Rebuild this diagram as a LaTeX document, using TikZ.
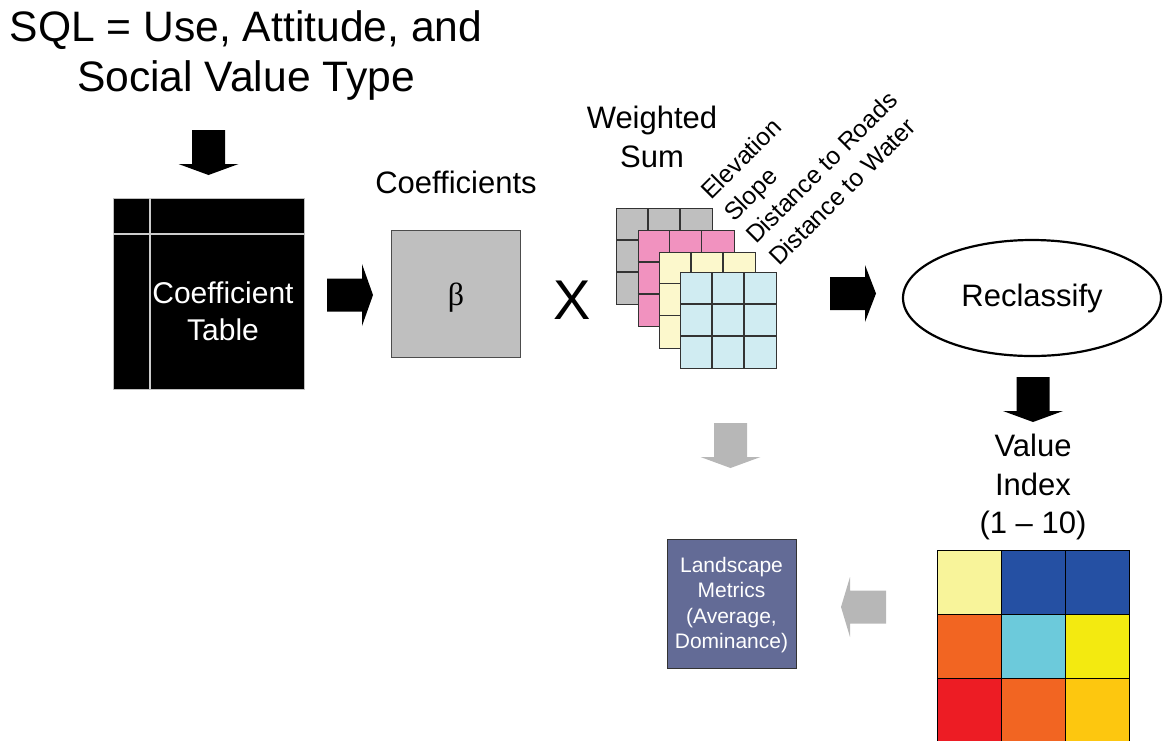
\documentclass[tikz,border=0pt]{standalone}
\usepackage{fontspec}
\setmainfont{Liberation Sans}
\newfontfamily\betafont{Liberation Serif}
\usetikzlibrary{shapes.geometric}
\definecolor{gridgray}{HTML}{BFBFBF}
\definecolor{gridpink}{HTML}{F192BF}
\definecolor{gridcream}{HTML}{FCF8CC}
\definecolor{gridblue}{HTML}{D0ECF2}
\definecolor{betagray}{HTML}{BFBFBF}
\definecolor{lmblue}{HTML}{636B96}
\definecolor{arrgray}{HTML}{B7B7B7}
\definecolor{vpale}{HTML}{F8F49A}
\definecolor{vblue}{HTML}{2550A3}
\definecolor{vorange}{HTML}{F26522}
\definecolor{vcyan}{HTML}{6CCADB}
\definecolor{vyellow}{HTML}{F3EA10}
\definecolor{vred}{HTML}{ED1C24}
\definecolor{vgold}{HTML}{FDC70F}
\newcommand\myDownArrow[3]{%
  \fill[#3] (#1-16.5,#2) -- (#1+16.5,#2) -- (#1+16.5,#2+34) -- (#1+30,#2+34)
    -- (#1,#2+45) -- (#1-30,#2+34) -- (#1-16.5,#2+34) -- cycle;}
\newcommand\myRightArrow[4]{%
  \fill[#3] (#1,#2-16.5) -- (#1+35,#2-16.5) -- (#1+35,#2-#4) -- (#1+46,#2)
    -- (#1+35,#2+#4) -- (#1+35,#2+16.5) -- (#1,#2+16.5) -- cycle;}
\newcommand\myLeftArrow[3]{%
  \fill[#3] (#1,#2-16.5) -- (#1-36,#2-16.5) -- (#1-36,#2-30) -- (#1-45,#2)
    -- (#1-36,#2+30) -- (#1-36,#2+16.5) -- (#1,#2+16.5) -- cycle;}
\newcommand\myGrid[4]{%
  \node[cellgrid, fill=#3] (#4) at (#1,#2) {};
  \draw[gridline] (#1+32,#2) -- (#1+32,#2+96) (#1+64,#2) -- (#1+64,#2+96)
    (#1,#2+32) -- (#1+96,#2+32) (#1,#2+64) -- (#1+96,#2+64);}
\tikzset{
  x=1pt, y=-1pt,
  lbl/.style={inner sep=0pt, align=center, font=\fontsize{31}{38.5}\selectfont},
  rot/.style={inner sep=0pt, anchor=base west, rotate=45, font=\fontsize{24.7}{30}\selectfont},
  cellgrid/.style={draw=black!80, line width=1.3pt, minimum size=96pt, inner sep=0pt, anchor=north west},
  gridline/.style={draw=black!80, line width=1.3pt},
  vcell/.style={draw=black, line width=1.2pt, minimum size=64pt, inner sep=0pt, anchor=north west},
}
\begin{document}
\begin{tikzpicture}
\useasboundingbox (0,0) rectangle (1169,740);
% title
\node[inner sep=0pt, align=center, font=\fontsize{42.6}{50}\selectfont] (title) at (246,55)
  {SQL = Use, Attitude, and\\Social Value Type};
\myDownArrow{208.5}{130}{black}
% coefficient table
\node[fill=black, draw=gray!50, line width=0.8pt, minimum width=191pt, minimum height=191pt,
  inner sep=0pt, anchor=north west] (ct) at (113,198) {};
\draw[gray!40!white, line width=1.2pt] (150,198) -- (150,389) (113,234) -- (304,234);
\node[lbl, text=white, font=\fontsize{30}{37}\selectfont] (cttext) at (223,311) {Coefficient\\Table};
\myRightArrow{327}{295}{black}{31}
% coefficients
\node[lbl] (coefl) at (456,182) {Coefficients};
\node[fill=betagray, draw=black!70, line width=1pt, minimum width=129pt, minimum height=127pt,
  inner sep=0pt, anchor=north west] (beta) at (391,230) {};
\node[inner sep=0pt, font=\betafont\fontsize{32}{36}\selectfont] (betat) at (456,298) {β};
\node[inner sep=0pt, font=\fontsize{56}{60}\selectfont] (times) at (572,300) {X};
% grids
\node[lbl] (ws) at (652,137) {Weighted\\Sum};
\myGrid{616}{208}{gridgray}{g1}
\myGrid{637.5}{230}{gridpink}{g2}
\myGrid{659}{251.5}{gridcream}{g3}
\myGrid{680}{272}{gridblue}{g4}
\node[rot] (elev) at (711,201) {Elevation};
\node[rot] (slope) at (734,223) {Slope};
\node[rot] (droads) at (756,245) {Distance to Roads};
\node[rot] (dwater) at (779,267) {Distance to Water};
\myRightArrow{830}{293.5}{black}{28.5}
% reclassify
\node[ellipse, draw=black, line width=2.2pt, minimum width=258pt, minimum height=116pt,
  inner sep=0pt, font=\fontsize{31}{36}\selectfont] (recl) at (1032,298) {Reclassify};
\myDownArrow{1033}{377}{black}
\node[lbl] (vi) at (1033,487) {Value\\Index\\(1 – 10)};
% value grid
\node[vcell, fill=vpale] (v11) at (937,550) {};
\node[vcell, fill=vblue] (v12) at (1001,550) {};
\node[vcell, fill=vblue] (v13) at (1065,550) {};
\node[vcell, fill=vorange] (v21) at (937,614) {};
\node[vcell, fill=vcyan] (v22) at (1001,614) {};
\node[vcell, fill=vyellow] (v23) at (1065,614) {};
\node[vcell, fill=vred] (v31) at (937,678) {};
\node[vcell, fill=vorange] (v32) at (1001,678) {};
\node[vcell, fill=vgold] (v33) at (1065,678) {};
% gray arrows
\myDownArrow{730.5}{423}{arrgray}
\myLeftArrow{886}{607}{arrgray}
% landscape metrics
\node[fill=lmblue, draw=black!80, line width=1pt, minimum width=129pt, minimum height=129pt,
  inner sep=0pt, anchor=north west] (lm) at (667,539) {};
\node[inner sep=0pt, align=center, text=white, font=\fontsize{21}{25.5}\selectfont] (lmt) at (731.5,605)
  {Landscape\\Metrics\\(Average,\\Dominance)};
\end{tikzpicture}
\end{document}
